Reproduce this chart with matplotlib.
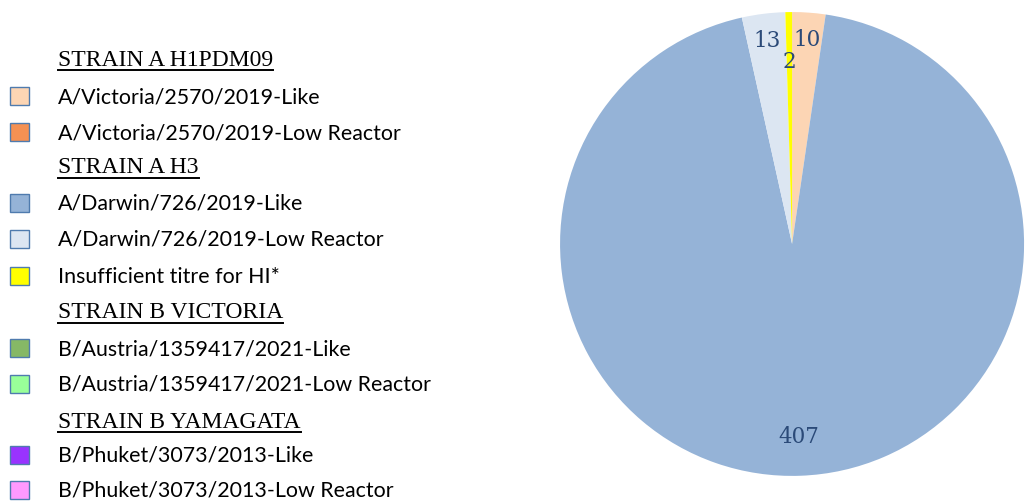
import matplotlib.pyplot as plt
import numpy as np
from matplotlib.lines import Line2D
from matplotlib.patches import Rectangle

# Pie slices, clockwise from 12 o'clock
slice_values = [10, 407, 13, 2]
slice_colors = ["#FCD5B4", "#95B3D7", "#DCE6F2", "#FFFF00"]
slice_label_r = [0.885, 0.83, 0.885, 0.79]

# Legend: (kind, text, colour) rows, top to bottom
legend_rows = [
    ("head", "STRAIN A H1PDM09", None),
    ("item", "A/Victoria/2570/2019-Like", "#FCD5B4"),
    ("item", "A/Victoria/2570/2019-Low Reactor", "#F59153"),
    ("head", "STRAIN A H3", None),
    ("item", "A/Darwin/726/2019-Like", "#95B3D7"),
    ("item", "A/Darwin/726/2019-Low Reactor", "#DCE6F2"),
    ("item", "Insufficient titre for HI*", "#FFFF00"),
    ("head", "STRAIN B VICTORIA", None),
    ("item", "B/Austria/1359417/2021-Like", "#86B866"),
    ("item", "B/Austria/1359417/2021-Low Reactor", "#99FF99"),
    ("head", "STRAIN B YAMAGATA", None),
    ("item", "B/Phuket/3073/2013-Like", "#9933FF"),
    ("item", "B/Phuket/3073/2013-Low Reactor", "#FF99FF"),
]
legend_y_px = [60, 97, 133, 168, 204, 240, 277, 313, 349, 385, 422, 456, 491]

W, H = 1025, 502
fig = plt.figure(figsize=(W / 100, H / 100), dpi=100)

# pie
ax = fig.add_axes([0.5464, 0.050, 0.4527, 0.924])
wedges, _ = ax.pie(slice_values, colors=slice_colors, startangle=90,
                   counterclock=False, radius=1.0)
ax.set_xlim(-1, 1)
ax.set_ylim(-1, 1)
ax.set_aspect("auto")
ax.axis("off")
for w, v, r in zip(wedges, slice_values, slice_label_r):
    mid = np.deg2rad((w.theta1 + w.theta2) / 2)
    ax.text(r * np.cos(mid), r * np.sin(mid), str(v), ha="center",
            va="center", fontsize=15.5, color="#2B4A78",
            family="DejaVu Serif")

# legend
renderer = fig.canvas.get_renderer()
for (kind, text, color), ypx in zip(legend_rows, legend_y_px):
    y = 1 - ypx / H
    if kind == "head":
        t = fig.text(58 / W, y, text, ha="left", va="center", fontsize=17,
                     family="Liberation Serif", color="black")
        bb = t.get_window_extent(renderer)
        uy = 1 - (ypx + 11) / H
        fig.add_artist(Line2D([bb.x0 / W, bb.x1 / W], [uy, uy],
                              transform=fig.transFigure, color="black",
                              lw=1.4))
    else:
        fig.add_artist(Rectangle((10 / W, 1 - (ypx + 9) / H), 19 / W, 18 / H,
                                 transform=fig.transFigure, facecolor=color,
                                 edgecolor="#4F7BAE", lw=1.0))
        fig.text(58 / W, y, text, ha="left", va="center", fontsize=15.4,
                 family="Lato", color="black")

fig.savefig("out.png", dpi=100)
